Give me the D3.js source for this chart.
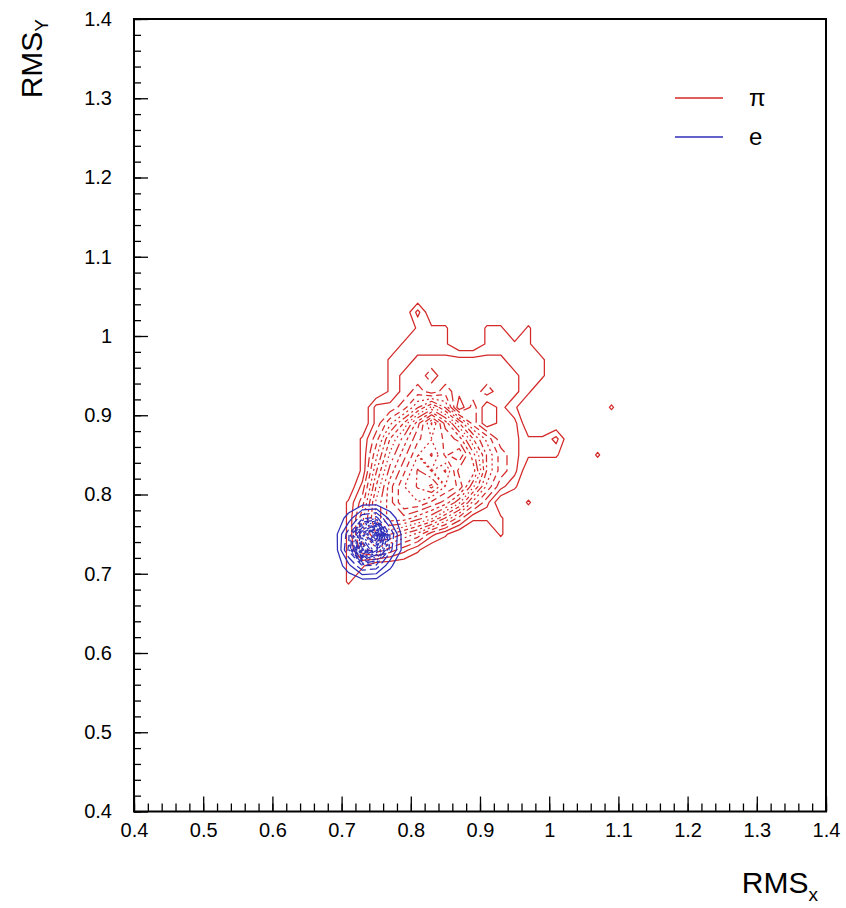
<!DOCTYPE html>
<html><head><meta charset="utf-8">
<script src="https://cdn.jsdelivr.net/npm/d3@7"></script>
<style>
body{margin:0;background:#fff}
text{font-family:"Liberation Sans",Arial,Helvetica,sans-serif;fill:#000}
</style>
</head><body>
<svg id="chart" width="846" height="908"></svg>
<script>
// ---------------- data ----------------
const xTicks = [0.4,0.5,0.6,0.7,0.8,0.9,1.0,1.1,1.2,1.3,1.4];
const xTickLabels = ["0.4","0.5","0.6","0.7","0.8","0.9","1","1.1","1.2","1.3","1.4"];
const yTicks = [0.4,0.5,0.6,0.7,0.8,0.9,1.0,1.1,1.2,1.3,1.4];
const yTickLabels = ["0.4","0.5","0.6","0.7","0.8","0.9","1","1.1","1.2","1.3","1.4"];
const xTitle = "RMS", xTitleSub = "x";
const yTitle = "RMS", yTitleSub = "Y";
const seriesNames = ["\u03c0","e"];

const binWidth = 0.02;
// pion histogram: columns x centres 0.67 .. 1.13, rows y centres 1.07 (top) .. 0.65 (bottom)
const piXLow = 0.66, piYLow = 0.64;
const piCounts = [
 [0,0,0,0,0,0,0,0,0,0,0,0,0,0,0,0,0,0,0,0,0,0,0,0], // 1.07
 [0,0,0,0,0,0,0,0,0,0,0,0,0,0,0,0,0,0,0,0,0,0,0,0], // 1.05
 [0,0,0,0,0,0,0,2,0,0,0,0,0,0,0,0,0,0,0,0,0,0,0,0], // 1.03
 [0,0,0,0,0,0,0,1,1,1,0,0,1,1,0,1,0,0,0,0,0,0,0,0], // 1.01
 [0,0,0,0,0,0,1,1,1,1,0,0,1,1,1,1,0,0,0,0,0,0,0,0], // 0.99
 [0,0,0,0,0,1,1,2,2,2,2,2,2,2,1,1,1,0,0,0,0,0,0,0], // 0.97
 [0,0,0,0,0,1,2,2,3,2,2,2,2,2,2,1,1,0,0,0,0,0,0,0], // 0.95
 [0,0,0,0,0,1,2,3,2,3,2,2,3,2,2,1,0,0,0,0,0,0,0,0], // 0.93
 [0,0,0,0,2,2,3,5,7,5,1,3,1,2,1,0,0,0,0,0,0,1,0,0], // 0.91
 [0,0,0,0,2,4,6,9,12,9,6,3,1,2,2,0,0,0,0,0,0,0,0,0], // 0.89
 [0,0,0,1,3,6,8,10,11,10,9,6,4,2,2,1,1,2,0,0,0,0,0,0], // 0.87
 [0,0,0,1,4,7,9,11,12,10,11,8,5,3,2,1,1,1,0,0,1,0,0,0], // 0.85
 [0,0,0,1,5,8,10,12,11,12,9,9,5,3,2,0,0,0,0,0,0,0,0,0], // 0.83
 [0,0,0,2,6,9,11,12,13,11,10,7,4,2,1,0,0,0,0,0,0,0,0,0], // 0.81
 [0,0,1,3,7,9,11,11,10,9,7,4,2,0,0,1,0,0,0,0,0,0,0,0], // 0.79
 [0,0,1,4,7,9,9,8,7,5,3,1,1,1,0,0,0,0,0,0,0,0,0,0], // 0.77
 [0,0,1,4,6,6,5,4,2,1,0,0,0,1,0,0,0,0,0,0,0,0,0,0], // 0.75
 [0,0,1,3,4,3,2,1,0,0,0,0,0,0,0,0,0,0,0,0,0,0,0,0], // 0.73
 [0,0,1,1,0,0,0,0,0,0,0,0,0,0,0,0,0,0,0,0,0,0,0,0], // 0.71
 [0,0,1,0,0,0,0,0,0,0,0,0,0,0,0,0,0,0,0,0,0,0,0,0], // 0.69
 [0,0,0,0,0,0,0,0,0,0,0,0,0,0,0,0,0,0,0,0,0,0,0,0], // 0.67
 [0,0,0,0,0,0,0,0,0,0,0,0,0,0,0,0,0,0,0,0,0,0,0,0]  // 0.65
];
const piLevels = [0.85,1.7,2.55,3.4,4.25,5.1,5.95,6.8,7.65,8.5,9.35,10.2,11.05,11.9,12.75,13.6,14.45,15.3,16.15];

// electron histogram: columns x centres 0.67 .. 0.81, rows y centres 0.81 (top) .. 0.67 (bottom)
const eXLow = 0.66, eYLow = 0.66;
const eCounts = [
 [0,0,0,0,0,0,0,0],
 [0,0,1,2,2,1,0,0],
 [0,1,7,19,22,8,1,0],
 [0,2,18,64,100,20,1,0],
 [0,1,21,88,57,17,2,0],
 [0,1,8,20,18,6,0,0],
 [0,0,1,2,2,1,0,0],
 [0,0,0,0,0,0,0,0]
];
const eLevels = [5,10,15,20,25,30,35,40,45,50,55,60,65,70,75,80,85,90,95];

// ---------------- layout ----------------
const frame = {left:134, right:826, top:19, bottom:811.5};
const colors = {pi:"#d42a2a", e:"#2e2eb8"};
const innerDashes = ["10,4", "6,4", "2,3", "8,3,2,3", "4,3", "1.5,3", "12,4,2,4", "3,3"];
const dashFor = i => i < 2 ? null : innerDashes[(i - 2) % innerDashes.length];

const svg = d3.select("#chart");
const x = d3.scaleLinear().domain([0.4,1.4]).range([frame.left, frame.right]);
const y = d3.scaleLinear().domain([0.4,1.4]).range([frame.bottom, frame.top]);

function drawContours(counts, xLow, yLow, levels, color) {
  const rows = counts.slice().reverse();       // index 0 = lowest y
  const ny = rows.length, nx = rows[0].length;
  const values = rows.flat();
  const proj = d3.geoTransform({
    point: function(cx, cy) {
      this.stream.point(x(xLow + cx*binWidth), y(yLow + cy*binWidth));
    }
  });
  const path = d3.geoPath(proj);
  const g = svg.append("g");
  levels.forEach((lv, i) => {
    const c = d3.contours().size([nx, ny]).thresholds([lv])(values)[0];
    g.append("path")
      .attr("d", path(c))
      .attr("fill", "none")
      .attr("stroke", color)
      .attr("stroke-width", 1.25)
      .attr("stroke-linejoin", "round")
      .attr("stroke-dasharray", dashFor(i));
  });
}
drawContours(piCounts, piXLow, piYLow, piLevels, colors.pi);
drawContours(eCounts, eXLow, eYLow, eLevels, colors.e);

// axes (ticks inside frame)
const fmtX = d => xTickLabels[xTicks.indexOf(d)];
const fmtY = d => yTickLabels[yTicks.indexOf(d)];
const minorVals = d3.range(0, 51).map(i => 0.4 + i*0.02);

const gxMinor = svg.append("g").attr("transform", `translate(0,${frame.bottom})`)
  .call(d3.axisBottom(x).tickValues(minorVals).tickSize(-8).tickFormat(""));
const gx = svg.append("g").attr("transform", `translate(0,${frame.bottom})`)
  .call(d3.axisBottom(x).tickValues(xTicks).tickSize(-15).tickPadding(11).tickFormat(fmtX));
const gyMinor = svg.append("g").attr("transform", `translate(${frame.left},0)`)
  .call(d3.axisLeft(y).tickValues(minorVals).tickSize(-7).tickFormat(""));
const gy = svg.append("g").attr("transform", `translate(${frame.left},0)`)
  .call(d3.axisLeft(y).tickValues(yTicks).tickSize(-14).tickPadding(22).tickFormat(fmtY));
[gxMinor, gx, gyMinor, gy].forEach(g => {
  g.select(".domain").remove();
  g.selectAll("line").attr("stroke", "#000").attr("stroke-width", 1.3);
  g.selectAll("text").style("font-size", "20px").attr("fill", "#000")
    .style("font-family", '"Liberation Sans",Arial,sans-serif');
});

// frame
svg.append("rect")
  .attr("x", frame.left).attr("y", frame.top)
  .attr("width", frame.right - frame.left).attr("height", frame.bottom - frame.top)
  .attr("fill", "none").attr("stroke", "#000").attr("stroke-width", 2);

// axis titles
const xt = svg.append("text").attr("x", 818).attr("y", 893)
  .attr("text-anchor", "end").style("font-size", "30px");
xt.append("tspan").text(xTitle);
xt.append("tspan").attr("dy", 8).style("font-size", "19px").text(xTitleSub);

const yt = svg.append("text").attr("transform", "translate(42,19) rotate(-90)")
  .attr("text-anchor", "end").style("font-size", "30px");
yt.append("tspan").text(yTitle);
yt.append("tspan").attr("dy", 6).style("font-size", "19px").text(yTitleSub);

// legend
const legend = svg.append("g");
[colors.pi, colors.e].forEach((c, i) => {
  const ly = 98 + i*39;
  legend.append("line").attr("x1", 675).attr("x2", 723).attr("y1", ly).attr("y2", ly)
    .attr("stroke", c).attr("stroke-width", 1.3);
  legend.append("text").attr("x", 749).attr("y", ly + 8)
    .style("font-size", "24px").text(seriesNames[i]);
});
</script>
</body></html>
